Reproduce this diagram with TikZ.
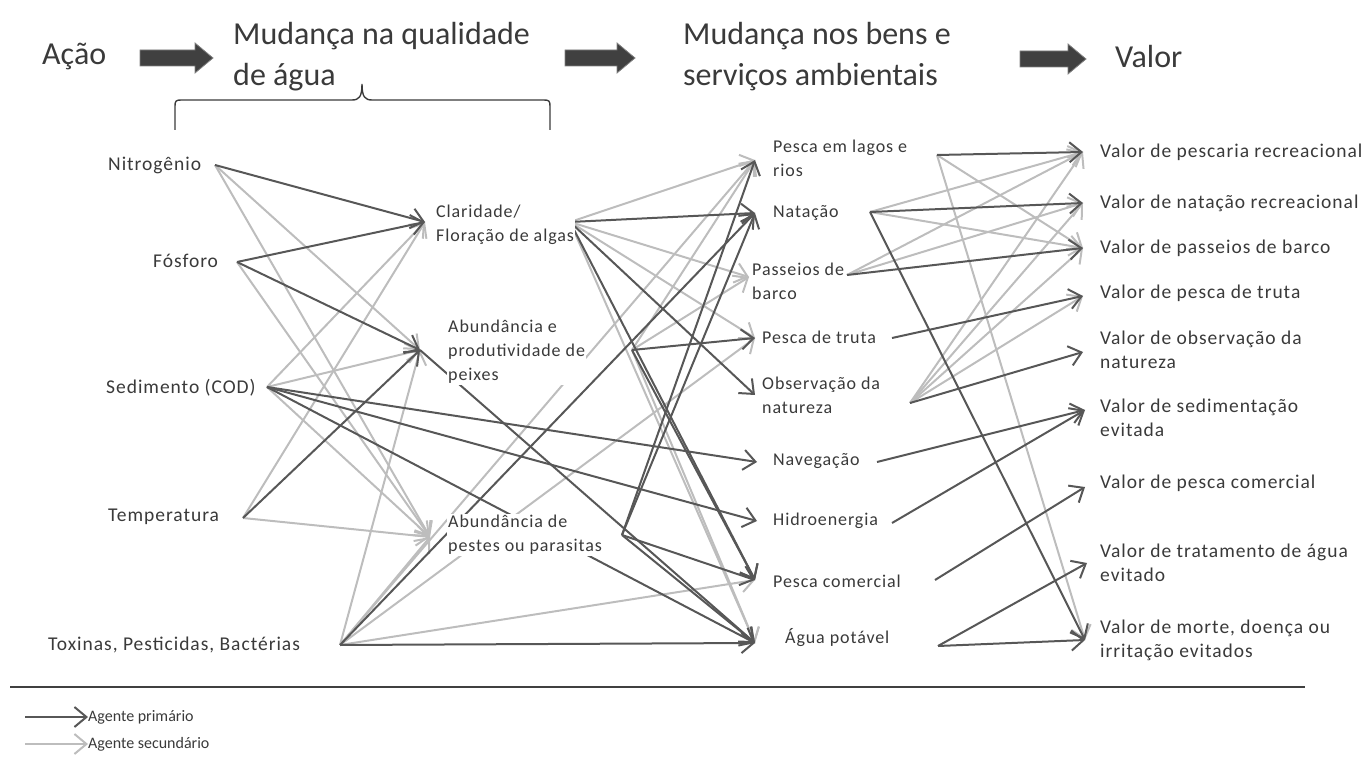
\documentclass[tikz,border=0pt]{standalone}
\usepackage{fontspec}
\setmainfont{Carlito}
\newfontfamily\lblfont[LetterSpace=5]{Carlito}
\usetikzlibrary{arrows.meta,backgrounds}
\definecolor{dk}{HTML}{575757}
\definecolor{lt}{HTML}{BDBDBD}
\definecolor{txt}{HTML}{3A3A3A}
\definecolor{blk}{HTML}{404040}
\begin{document}
\begin{tikzpicture}[x=1pt,y=-1pt,
  lbl/.style={anchor=west, inner sep=1pt, fill=white, text=txt, align=left,
    font=\lblfont\fontsize{19.5}{24}\selectfont},
  mid/.style={lbl, font=\lblfont\fontsize{18}{24}\selectfont},
  hdr/.style={anchor=west, inner sep=0pt, text=txt, align=left,
    font=\fontsize{32}{41}\selectfont},
  leg/.style={anchor=west, inner sep=0pt, text=txt, font=\fontsize{16}{18}\selectfont},
  tip/.style={-{Straight Barb[length=12pt,width=20pt,line width=2pt]}},
  pri/.style={tip, draw=dk, line width=2pt},
  sec/.style={tip, draw=lt, line width=2pt},
  blockarrow/.style={fill=blk, draw=gray, line width=0.8pt}
]
\useasboundingbox (0,0) rectangle (1366,759);

% ---------- header ----------
\node[hdr] (hAcao) at (42,57) {Ação};
\node[hdr] (hAgua) at (233,57) {Mudança na qualidade\\de água};
\node[hdr] (hBens) at (683,57) {Mudança nos bens e\\serviços ambientais};
\node[hdr] (hValor) at (1115,57) {Valor};
\path[blockarrow] (140,50) -- (195,50) -- (195,43) -- (213,58) -- (195,73) -- (195,66) -- (140,66) -- cycle;
\path[blockarrow] (565,50) -- (617,50) -- (617,43) -- (635,58) -- (617,73) -- (617,66) -- (565,66) -- cycle;
\path[blockarrow] (1020,51) -- (1068,51) -- (1068,44) -- (1086,59) -- (1068,74) -- (1068,67) -- (1020,67) -- cycle;
% brace
\draw[txt, line width=1.4pt] (175,130) -- (175,106) .. controls (175,101) and (176,100) .. (181,100)
  -- (352,100) .. controls (359,100) and (362,97) .. (362,84)
  .. controls (362,97) and (365,100) .. (372,100)
  -- (544,100) .. controls (549,100) and (550,101) .. (550,106) -- (550,130);

% ---------- nodes ----------
\node[lbl] (nitro) at (107,165) {Nitrogênio};
\node[lbl] (fosf)  at (152,261) {Fósforo};
\node[lbl] (sed)   at (105,388) {Sedimento (COD)};
\node[lbl] (temp)  at (107,517) {Temperatura};
\node[lbl] (tox)   at (47,645)  {Toxinas, Pesticidas, Bactérias};

\node[mid] (clar) at (435,225) {Claridade/\\Floração de algas};
\node[mid] (peix) at (447,352) {Abundância e\\produtividade de\\peixes};
\node[mid] (pest) at (447,535) {Abundância de\\pestes ou parasitas};

\node[mid] (lago) at (772,158) {Pesca em lagos e\\rios};
\node[mid] (nata) at (772,213) {Natação};
\node[mid] (pass) at (751,281) {Passeios de\\barco};
\node[mid] (trut) at (761,337) {Pesca de truta};
\node[mid] (obs)  at (761,395) {Observação da\\natureza};
\node[mid] (nav)  at (772,461) {Navegação};
\node[mid] (hid)  at (772,521) {Hidroenergia};
\node[mid] (com)  at (772,581) {Pesca comercial};
\node[mid] (agua) at (784,638) {Água potável};

\node[lbl] (v1) at (1099,152) {Valor de pescaria recreacional};
\node[lbl] (v2) at (1099,203) {Valor de natação recreacional};
\node[lbl] (v3) at (1099,248) {Valor de passeios de barco};
\node[lbl] (v4) at (1099,293) {Valor de pesca de truta};
\node[lbl] (v5) at (1099,350) {Valor de observação da\\natureza};
\node[lbl] (v6) at (1099,418) {Valor de sedimentação\\evitada};
\node[lbl] (v7) at (1099,483) {Valor de pesca comercial};
\node[lbl] (v8) at (1099,563) {Valor de tratamento de água\\evitado};
\node[lbl] (v9) at (1099,640) {Valor de morte, doença ou\\irritação evitados};

% ---------- connection points ----------
\coordinate (nitroO) at (215,165);
\coordinate (fosfO)  at (237,262);
\coordinate (sedO)   at (267,387);
\coordinate (tempO)  at (243,518);
\coordinate (toxO)   at (340,645);
\coordinate (clarI) at (425,222); \coordinate (clarO) at (570,222);
\coordinate (peixI) at (420,350); \coordinate (peixO) at (632,350);
\coordinate (pestI) at (430,537); \coordinate (pestO) at (622,535);
\coordinate (lagoI) at (755,160); \coordinate (lagoO) at (937,155);
\coordinate (nataI) at (755,213); \coordinate (nataO) at (870,212);
\coordinate (passI) at (749,277); \coordinate (passO) at (847,275);
\coordinate (trutI) at (755,338); \coordinate (trutO) at (892,338);
\coordinate (obsI)  at (755,395); \coordinate (obsO)  at (910,403);
\coordinate (navI)  at (757,462); \coordinate (navO)  at (877,462);
\coordinate (hidI)  at (757,521); \coordinate (hidO)  at (892,523);
\coordinate (comI)  at (755,580); \coordinate (comO)  at (935,580);
\coordinate (aguaI) at (755,643); \coordinate (aguaO) at (938,646);
\coordinate (v1I) at (1083,152);
\coordinate (v2I) at (1083,203);
\coordinate (v3I) at (1083,248);
\coordinate (v4I) at (1083,296);
\coordinate (v5I) at (1083,352);
\coordinate (v6I) at (1085,410);
\coordinate (v7I) at (1085,487);
\coordinate (v8I) at (1087,563);
\coordinate (v9I) at (1085,640);

% ---------- connectors (behind the labels) ----------
\begin{pgfonlayer}{background}
% secondary agents
\foreach \a/\b in {nitroO/peixI, nitroO/pestI, fosfO/pestI, sedO/clarI, sedO/peixI, sedO/pestI,
  tempO/clarI, tempO/pestI, toxO/peixI, toxO/pestI, toxO/lagoI, toxO/trutI, toxO/comI,
  clarO/lagoI, clarO/passI, clarO/trutI, clarO/aguaI,
  peixO/passI, peixO/lagoI, peixO/aguaI,
  lagoO/v3I, lagoO/v9I, nataO/v1I, nataO/v3I, passO/v1I, passO/v2I,
  obsO/v1I, obsO/v2I, obsO/v3I, obsO/v4I}
  \draw[sec] (\a) -- (\b);
% primary agents
\foreach \a/\b in {nitroO/clarI, fosfO/clarI, fosfO/peixI, tempO/peixI,
  sedO/navI, sedO/hidI, sedO/aguaI, peixI/aguaI, toxO/nataI, toxO/aguaI,
  clarO/nataI, clarO/obsI, clarO/comI,
  peixO/trutI, peixO/comI,
  pestO/lagoI, pestO/nataI, pestO/comI, pestO/aguaI,
  lagoO/v1I, nataO/v2I, nataO/v9I, passO/v3I, trutO/v4I, obsO/v5I,
  navO/v6I, hidO/v6I, comO/v7I, aguaO/v8I, aguaO/v9I}
  \draw[pri] (\a) -- (\b);
\end{pgfonlayer}

% ---------- legend ----------
\coordinate (sepL) at (10,687);
\coordinate (sepR) at (1305,687);
\draw[blk, line width=2pt] (sepL) -- (sepR);
\node[leg] (lp) at (88,717) {Agente primário};
\node[leg] (ls) at (88,744) {Agente secundário};
\coordinate (lpS) at (25,717);
\coordinate (lsS) at (25,744);
\draw[pri] (lpS) -- (lp.west);
\draw[sec] (lsS) -- (ls.west);
\end{tikzpicture}
\end{document}
